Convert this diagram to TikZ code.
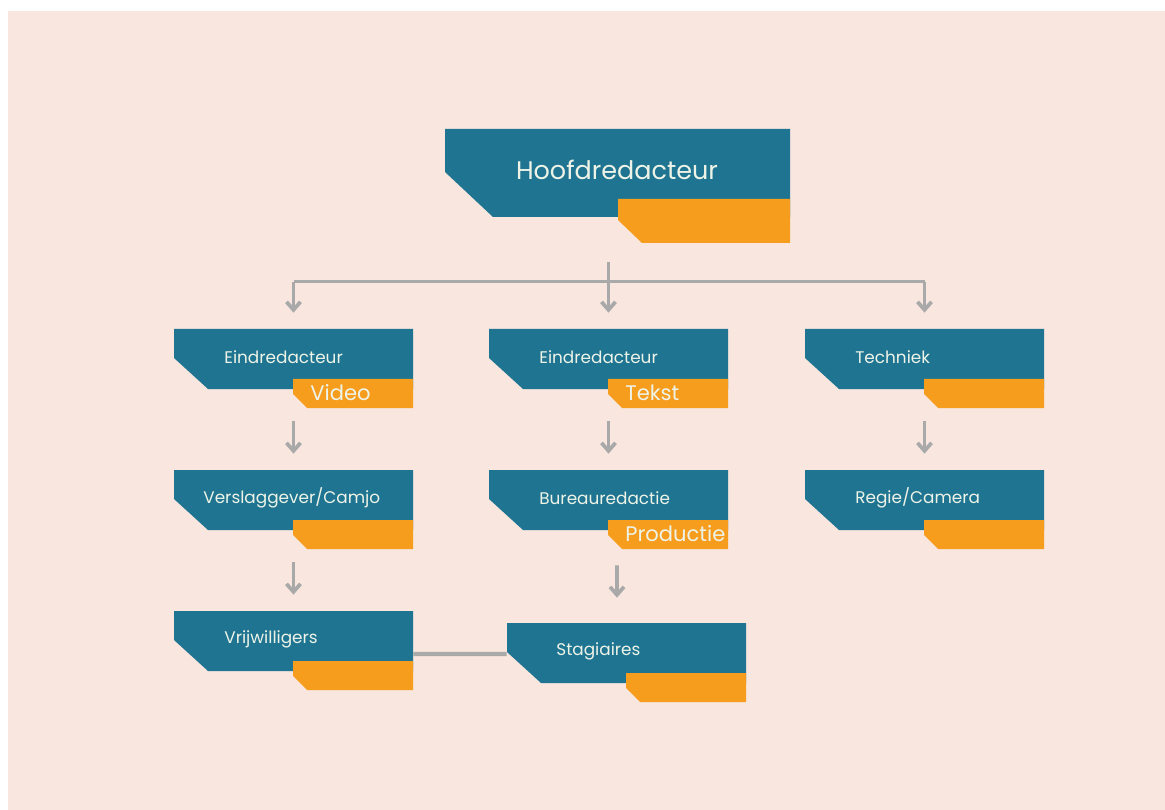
\documentclass[tikz,border=0pt]{standalone}
\usepackage{fontspec}
\setmainfont{Poppins}
\usepackage{tikz}
\usetikzlibrary{positioning,calc,arrows.meta}

\definecolor{bgpink}{HTML}{F8E6DF}
\definecolor{orgteal}{HTML}{1F7591}
\definecolor{orgorange}{HTML}{F79D1E}
\definecolor{lnkgray}{HTML}{A9A9A9}
\definecolor{lbltext}{HTML}{EEF3E8}

\tikzset{
  boxarea/.style={minimum width=4.78cm, minimum height=1.58cm, inner sep=0pt},
  lbl/.style={anchor=west, inner sep=0pt, text=lbltext, font=\fontsize{9.6}{11}\selectfont},
  tag/.style={anchor=west, inner sep=0pt, text=lbltext, font=\fontsize{12}{14}\selectfont},
  ln/.style={draw=lnkgray, line width=2.1pt},
  arr/.style={ln, -{Straight Barb[length=1.6mm,width=2.8mm]}, shorten <=0.25cm, shorten >=0.32cm}
}

% [#1] label indent, #2 name, #3 top left, #4 label, #5 orange tag
\newcommand{\obox}[5][50]{%
  \fill[orgteal] (#3) -- ++(239,0) -- ++(0,60) -- ++(-205,0) -- ++(-34,-31) -- cycle;
  \fill[orgorange] ($(#3)+(119,50)$) -- ++(120,0) -- ++(0,29) -- ++(-106,0) -- ++(-14,-14) -- cycle;
  \node[boxarea] (#2) at ($(#3)+(119.5,39.5)$) {};
  \node[lbl] (#2-lbl) at ($(#3)+(#1,28)$) {#4};
  \node[tag] (#2-tag) at ($(#3)+(136,64)$) {#5};
}

\begin{document}
\begin{tikzpicture}[x=0.02cm, y=-0.02cm]

\useasboundingbox (0,0) rectangle (1165,810);
\fill[white] (0,0) rectangle (1165,810);
\fill[bgpink] (8,11) rectangle (1165,810);

% top box
\fill[orgteal] (445,129) -- (790,129) -- (790,217) -- (493,217) -- (445,172) -- cycle;
\fill[orgorange] (618,199) -- (790,199) -- (790,243) -- (642,243) -- (618,220) -- cycle;
\node[boxarea, minimum width=6.9cm, minimum height=2.28cm] (HOOF) at (617.5,186) {};
\node[lbl, anchor=center, font=\fontsize{14.5}{17}\selectfont] (HOOF-lbl) at (617,170) {Hoofdredacteur};

% second row
\obox{E1}{174,329}{Eindredacteur}{Video}
\obox{E2}{489,329}{Eindredacteur}{Tekst}
\obox{E3}{805,329}{Techniek}{}

% third row
\obox[29]{VERS}{174,470}{Verslaggever/Camjo}{}
\obox{BUR}{489,470}{Bureauredactie}{Productie}
\obox{REG}{805,470}{Regie/Camera}{}

% bottom row
\obox{VRIJ}{174,611}{Vrijwilligers}{}
\obox[49]{STAG}{507,623}{Stagiaires}{}

% connectors
\draw[ln] ($(HOOF.south -| E2.north)+(0,19)$) -- ($(E2.north)+(0,-47)$);
\draw[ln] ($(E1.north)+(0,-47)$) -- ($(E3.north)+(0,-47)$);
\foreach \n in {E1,E2,E3}
  \draw[arr, shorten <=0pt] ($(\n.north)+(0,-47)$) -- (\n.north);

\draw[arr] (E1) -- (VERS);
\draw[arr] (E2) -- (BUR);
\draw[arr] (E3) -- (REG);
\draw[arr] (VERS) -- (VRIJ);
\draw[arr, shorten <=0.32cm, shorten >=0.5cm] ($(BUR.south)+(8.5,0)$) -- ($(STAG.north)+(-9.5,0)$);

\draw[ln, line width=2.4pt] ($(VRIJ.east)+(0,3.5)$) -- ($(STAG.west)+(0,-8.5)$);

\end{tikzpicture}
\end{document}
